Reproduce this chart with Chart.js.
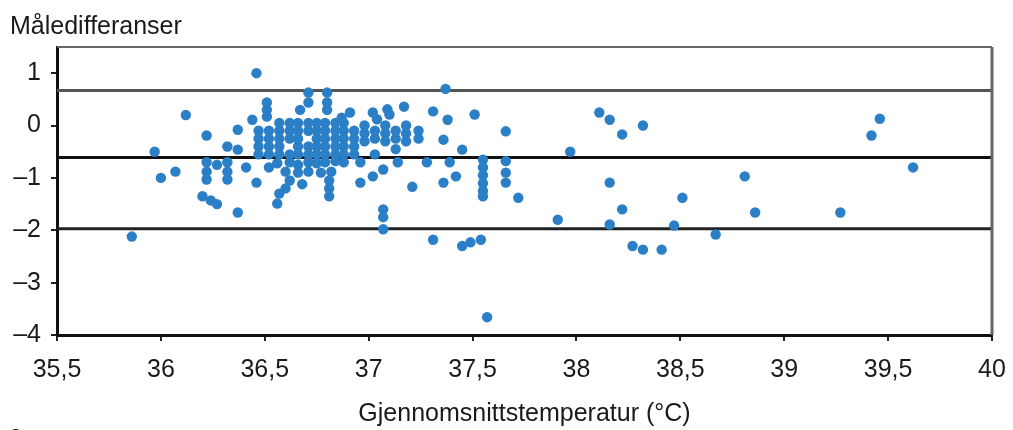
<!DOCTYPE html>
<html>
<head>
<meta charset="utf-8">
<script src="https://cdn.jsdelivr.net/npm/chart.js@4/dist/chart.umd.min.js"></script>
<style>
  body { margin: 0; background: #ffffff; }
  #wrap { width: 1013px; height: 430px; }
</style>
</head>
<body>
<div id="wrap"><canvas id="myScatterChart" width="1013" height="430"></canvas></div>
<script>
const yTitle = "Måledifferanser";
const xTitle = "Gjennomsnittstemperatur (°C)";
const panelLabel = "a";

const xRange = [35.5, 40];
const xStep = 0.5;
const yRange = [-4, 1.5];
const yStep = 1;

// mean difference and limits of agreement
const limitLines = [0.67, -0.61, -1.97];
const limitColors = ["#555555", "#111111", "#222222"];

// average temperature (x) and measured difference (y), point by point
const tempValues = [
    35.86, 35.97, 36.00, 36.07, 36.12, 36.22, 36.37, 36.32, 36.37, 36.22, 36.22, 36.22,
    36.27, 36.32, 36.32, 36.32, 36.41, 36.46, 36.20, 36.24, 36.27, 36.37, 36.56, 36.46,
    36.71, 36.80, 36.67, 36.71, 36.80, 36.80, 36.51, 36.51, 36.51, 36.44, 36.91, 36.87,
    36.57, 36.62, 36.66, 36.71, 36.75, 36.79, 36.84, 36.88,
    36.47, 36.52, 36.57, 36.62, 36.66, 36.71, 36.75, 36.79, 36.84, 36.88,
    36.47, 36.52, 36.57, 36.62, 36.66, 36.75, 36.79, 36.84, 36.88,
    36.47, 36.52, 36.57, 36.66, 36.71, 36.75, 36.79, 36.84, 36.88,
    36.47, 36.52, 36.57, 36.62, 36.66, 36.71, 36.75, 36.79, 36.84, 36.88,
    36.52, 36.56, 36.62, 36.66, 36.71, 36.75, 36.79, 36.84, 36.88,
    36.60, 36.66, 36.71, 36.77, 36.82, 36.62, 36.68, 36.60, 36.57, 36.81, 36.81, 36.81,
    37.02, 37.09, 37.17, 37.04, 37.10, 37.31, 37.38, 37.51, 37.37,
    36.93, 36.93, 36.93, 36.93, 36.98, 36.98, 36.98, 37.03, 37.03, 37.03,
    37.08, 37.08, 37.08, 37.13, 37.13, 37.13, 37.18, 37.18, 37.18, 37.24, 37.24,
    37.36, 37.45, 37.28, 37.39, 37.36, 37.42, 37.21, 36.96, 37.02, 37.07, 37.14, 36.96,
    37.07, 37.07, 37.07, 37.31, 37.45, 37.49, 37.54,
    37.55, 37.55, 37.55, 37.55, 37.55, 37.55,
    37.66, 37.66, 37.66, 37.66, 37.72, 37.57,
    37.91, 37.97, 38.11, 38.16, 38.22, 38.32, 38.16, 38.22, 38.16, 38.27, 38.32, 38.41,
    38.47, 38.51, 38.67, 38.81, 38.86, 39.27, 39.42, 39.46, 39.62
];
const diffValues = [
    -2.12, -0.50, -1.00, -0.88, 0.20, -0.19, -0.08, -0.40, -0.46, -0.70, -0.88, -1.03,
    -0.75, -0.70, -0.88, -1.03, -0.80, -1.09, -1.35, -1.43, -1.50, -1.66, -1.49, 1.00,
    0.63, 0.63, 0.30, 0.44, 0.44, 0.30, 0.44, 0.30, 0.17, 0.11, 0.25, 0.15,
    0.05, 0.05, 0.05, 0.05, 0.05, 0.05, 0.05, 0.05,
    -0.10, -0.10, -0.10, -0.10, -0.10, -0.10, -0.10, -0.10, -0.10, -0.10,
    -0.25, -0.25, -0.25, -0.25, -0.25, -0.25, -0.25, -0.25, -0.25,
    -0.40, -0.40, -0.40, -0.40, -0.40, -0.40, -0.40, -0.40, -0.40,
    -0.55, -0.55, -0.55, -0.55, -0.55, -0.55, -0.55, -0.55, -0.55, -0.55,
    -0.80, -0.72, -0.70, -0.75, -0.70, -0.72, -0.70, -0.68, -0.70,
    -0.88, -0.90, -0.88, -0.90, -0.88, -1.05, -1.12, -1.20, -1.30, -1.05, -1.20, -1.35,
    0.25, 0.31, 0.36, 0.12, 0.21, 0.27, 0.11, 0.21, 0.70,
    -0.10, -0.25, -0.40, -0.55, 0.00, -0.15, -0.30, -0.10, -0.25, -0.55,
    0.00, -0.15, -0.30, -0.10, -0.25, -0.45, 0.00, -0.15, -0.30, -0.10, -0.25,
    -0.27, -0.46, -0.70, -0.70, -1.09, -0.97, -1.17, -1.09, -0.97, -0.84, -0.70, -0.70,
    -1.60, -1.75, -1.98, -2.18, -2.30, -2.23, -2.18,
    -0.65, -0.80, -0.95, -1.10, -1.25, -1.35,
    -0.11, -0.68, -0.90, -1.09, -1.38, -3.66,
    -1.80, -0.50, 0.25, 0.11, -0.17, 0.00, -1.09, -1.60, -1.89, -2.30, -2.37, -2.37,
    -1.91, -1.38, -2.08, -0.97, -1.66, -1.66, -0.19, 0.13, -0.80
];

const fontFamily = "'Liberation Sans', Arial, sans-serif";
const textColor = "#1a1a1a";
const fontSize = 25;

function buildPoints(){
    const points = [];
    for(let i = 0; i < tempValues.length; i++){
        points.push({x: tempValues[i], y: diffValues[i]});
    }
    return points;
}

function buildLimitDatasets(){
    const sets = [];
    for(let i = 0; i < limitLines.length; i++){
        sets.push({
            type: 'line',
            data: [{x: xRange[0], y: limitLines[i]}, {x: xRange[1], y: limitLines[i]}],
            borderColor: limitColors[i],
            borderWidth: 3,
            pointRadius: 0,
            fill: false,
            order: 1
        });
    }
    return sets;
}

// thin frame on top and right side, plus the cut panel letter
const framePlugin = {
    id: 'frame',
    afterDatasetsDraw: function (chart) {
        const a = chart.chartArea;
        const c = chart.ctx;
        c.save();
        c.strokeStyle = "#666666";
        c.lineWidth = 2;
        c.beginPath();
        c.moveTo(a.left, a.top);
        c.lineTo(a.right, a.top);
        c.stroke();
        c.lineWidth = 3;
        c.beginPath();
        c.moveTo(a.right, a.top);
        c.lineTo(a.right, a.bottom);
        c.stroke();
        c.fillStyle = textColor;
        c.font = "bold 24px " + fontFamily;
        c.textBaseline = "alphabetic";
        c.fillText(panelLabel, 9, 442);
        c.restore();
    }
};

function createScatterChart(){
    var ctx = document.getElementById("myScatterChart");
    var datasets = [{
        type: 'scatter',
        data: buildPoints(),
        backgroundColor: "#2a7fc6",
        borderColor: "#2a7fc6",
        borderWidth: 0,
        pointRadius: 5.2,
        order: 0
    }].concat(buildLimitDatasets());

    new Chart(ctx, {
        type: 'scatter',
        data: { datasets: datasets },
        plugins: [framePlugin],
        options: {
            responsive: false,
            animation: false,
            layout: { padding: { left: 10, right: 21, top: 0, bottom: 0 } },
            plugins: {
                legend: { display: false },
                tooltip: { enabled: false },
                title: {
                    display: true,
                    text: yTitle,
                    align: 'start',
                    color: textColor,
                    font: { family: fontFamily, size: fontSize, weight: 'normal' },
                    padding: { top: 12, bottom: 5 }
                }
            },
            scales: {
                x: {
                    type: 'linear',
                    position: 'bottom',
                    min: xRange[0],
                    max: xRange[1],
                    afterFit: function (scale) {
                        scale.height = 95;
                        scale.paddingRight = 0;
                    },
                    ticks: {
                        stepSize: xStep,
                        color: textColor,
                        font: { family: fontFamily, size: fontSize },
                        padding: 14,
                        maxRotation: 0,
                        callback: function (value) {
                            return Number(value.toFixed(1)).toString().replace('.', ',');
                        }
                    },
                    grid: { display: true, drawOnChartArea: false, tickLength: 6, color: "#222222", lineWidth: 2 },
                    border: { display: true, color: "#111111", width: 3 },
                    title: {
                        display: true,
                        text: xTitle,
                        color: textColor,
                        font: { family: fontFamily, size: fontSize },
                        padding: { top: 4, bottom: 1 }
                    }
                },
                y: {
                    type: 'linear',
                    min: yRange[0],
                    max: yRange[1],
                    afterFit: function (scale) { scale.width = 47; },
                    ticks: {
                        stepSize: yStep,
                        includeBounds: false,
                        color: textColor,
                        font: { family: fontFamily, size: fontSize },
                        padding: 10,
                        callback: function (value) {
                            return value.toString().replace('-', '\u2013');
                        }
                    },
                    grid: { display: true, drawOnChartArea: false, tickLength: 6, color: "#222222", lineWidth: 2 },
                    border: { display: true, color: "#111111", width: 3 }
                }
            }
        }
    });
}

createScatterChart();
</script>
</body>
</html>
